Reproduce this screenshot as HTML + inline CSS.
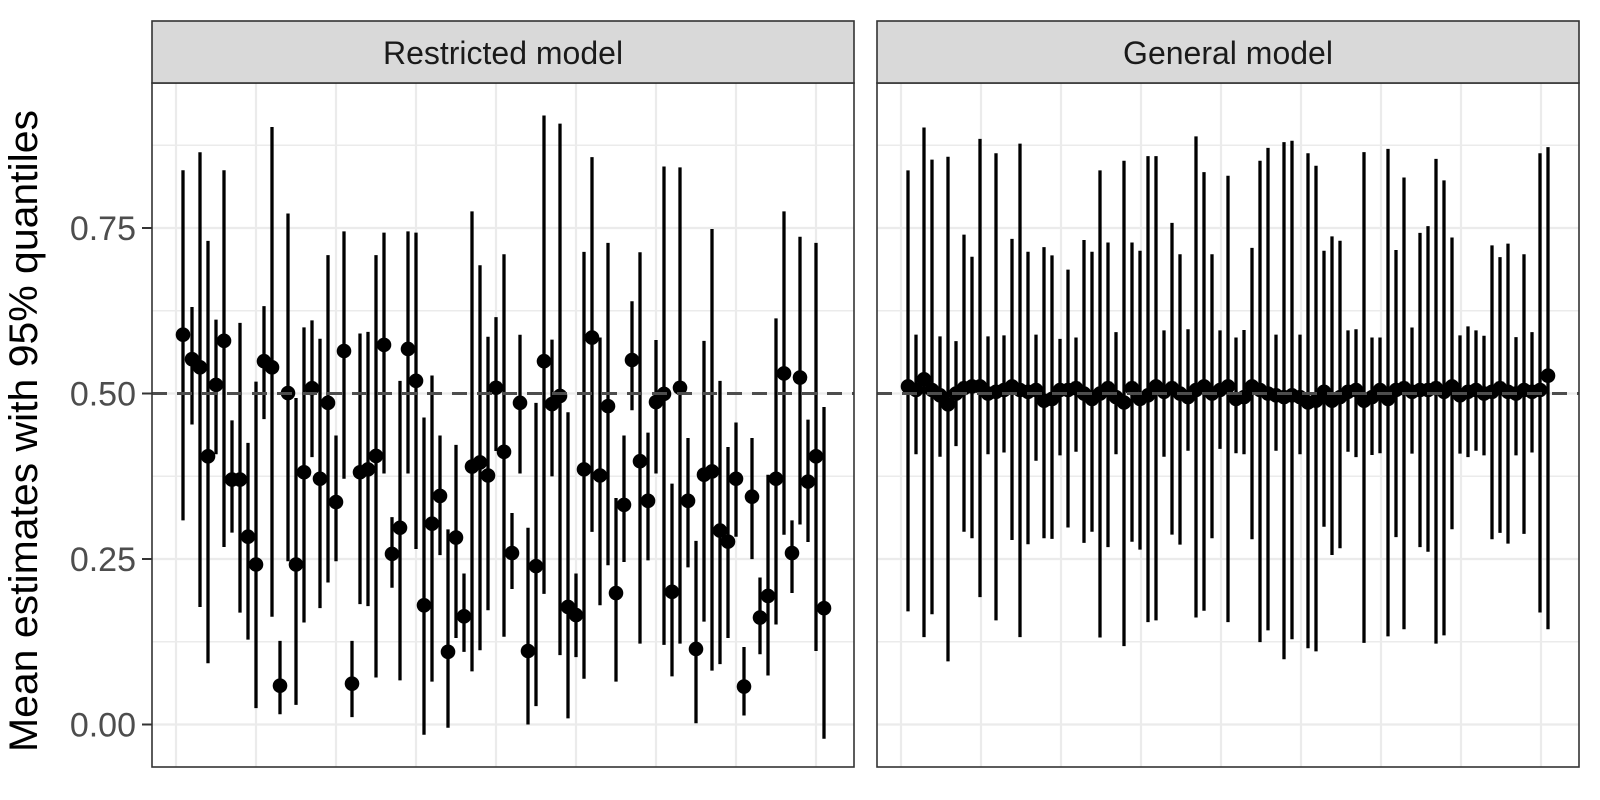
<!DOCTYPE html>
<html><head><meta charset="utf-8"><style>
html,body{margin:0;padding:0;background:#fff;}
svg{display:block;}
</style></head><body>
<svg id="s" width="1600" height="800" xmlns="http://www.w3.org/2000/svg" font-family="Liberation Sans, sans-serif">
<rect width="1600" height="800" fill="#fff"/>
<g id="g"></g>
<text x="37" y="431" font-size="40" fill="#000" text-anchor="middle" transform="rotate(-90 37 431)" textLength="642" lengthAdjust="spacingAndGlyphs">Mean estimates with 95% quantiles</text>
</svg>
<script>
var NS="http://www.w3.org/2000/svg",g=document.getElementById('g');
function el(n,a){var e=document.createElementNS(NS,n);for(var k in a)e.setAttribute(k,a[k]);g.appendChild(e);return e;}
function Y(v){return 724.5-662*v;}
var PT=83,PB=767;
var panels=[{x0:152,x1:854,t:"Restricted model"},{x0:877,x1:1579,t:"General model"}];
panels.forEach(function(p,i){
  el('rect',{x:p.x0,y:PT,width:p.x1-p.x0,height:PB-PT,fill:'#fff'});
  [0.125,0.375,0.625,0.875].forEach(function(v){el('line',{x1:p.x0,x2:p.x1,y1:Y(v),y2:Y(v),stroke:'#ebebeb','stroke-width':1.5});});
  [0,0.25,0.5,0.75].forEach(function(v){el('line',{x1:p.x0,x2:p.x1,y1:Y(v),y2:Y(v),stroke:'#ebebeb','stroke-width':2.2});});
  for(var k=0;k<9;k++){var gx=p.x0+24+80*k;el('line',{x1:gx,x2:gx,y1:PT,y2:PB,stroke:'#ebebeb','stroke-width':2.2});}
});
var L=[[183,172,1030,575],[192,507,795,635],[200,128,1242,655],[208,345,1380,873],[216,538,868,698],[224,172,1095,590],[232,785,1060,930],[240,546,1256,930],[248,840,1322,1070],[256,690,1490,1138],[264,505,782,640],[272,66,1266,655],[280,1325,1505,1435],[288,278,1130,718],[296,730,1482,1138],[304,557,1280,912],[312,540,875,706],[320,585,1245,928],[328,380,1182,742],[336,822,1130,985],[344,322,928,615],[352,1325,1512,1430],[360,572,1235,912],[368,568,1240,905],[376,380,1415,872],[384,325,915,600],[392,1022,1195,1112],[400,688,1422,1048],[408,322,915,610],[416,325,1100,688],[424,778,1555,1238],[432,675,1425,1038],[440,822,1115,970],[448,1052,1538,1352],[456,845,1318,1072],[464,1160,1352,1265],[472,273,1400,898],[480,405,1348,888],[488,580,1250,920],[496,532,860,705],[504,378,1315,862],[512,1012,1198,1110],[520,575,915,742],[528,1048,1530,1350],[536,742,1485,1142],[544,38,1210,640],[552,587,922,745],[560,58,1360,725],[568,765,1515,1242],[576,1160,1365,1262],[584,372,1418,905],[592,140,1058,582],[600,582,1238,920],[608,350,1140,750],[616,975,1425,1208],[624,822,1132,992],[632,493,760,637],[640,373,1332,885],[648,815,1128,982],[656,588,915,740],[664,163,1335,720],[672,940,1412,1205],[680,165,1332,705],[688,828,1145,982],[696,1080,1527,1345],[704,590,1278,918],[712,316,1398,910],[720,688,1382,1055],[728,850,1318,1082],[736,790,1070,928],[744,1340,1508,1437],[752,828,1125,972],[760,1170,1358,1268],[768,918,1410,1215],[776,535,1285,928],[784,273,1065,670],[792,1030,1208,1110],[800,335,1040,680],[808,783,1083,935],[816,350,1350,873],[824,752,1565,1245]];
var R=[[908,155,1390,760],[916,615,950,770],[924,35,1462,740],[932,125,1398,770],[940,620,957,785],[948,117,1530,810],[956,633,927,780],[964,335,1167,765],[972,397,1185,760],[980,67,1350,760],[988,620,950,780],[996,107,1415,775],[1004,617,945,770],[1012,347,1190,760],[1020,80,1462,770],[1028,383,1202,775],[1036,615,968,770],[1044,370,1185,800],[1052,393,1187,795],[1060,627,953,770],[1068,433,1155,770],[1076,623,943,765],[1084,350,1198,780],[1092,383,1167,795],[1100,155,1463,780],[1108,357,1210,765],[1116,608,950,790],[1124,128,1487,805],[1132,357,1195,765],[1140,380,1217,795],[1148,115,1420,785],[1156,115,1415,760],[1164,603,957,775],[1172,302,1175,765],[1180,390,1203,780],[1188,600,940,790],[1196,60,1407,770],[1204,160,1388,760],[1212,390,1185,780],[1220,603,935,770],[1228,170,1420,760],[1236,623,947,795],[1244,602,950,790],[1252,372,1188,760],[1260,128,1476,770],[1268,92,1443,780],[1276,615,940,785],[1284,76,1524,790],[1292,72,1468,785],[1300,615,950,790],[1308,107,1493,805],[1316,142,1502,800],[1324,380,1153,775],[1332,340,1232,800],[1340,352,1213,790],[1348,603,943,775],[1356,600,958,770],[1364,104,1478,800],[1372,623,952,790],[1380,623,947,770],[1388,95,1460,795],[1396,378,1182,770],[1404,175,1440,765],[1412,595,948,775],[1420,330,1210,770],[1428,311,1223,770],[1436,123,1480,765],[1444,183,1457,775],[1452,343,1160,760],[1460,617,948,785],[1468,592,958,775],[1476,603,940,770],[1484,618,953,780],[1492,365,1188,775],[1500,398,1170,765],[1508,360,1200,775],[1516,622,953,780],[1524,390,1173,770],[1532,608,945,775],[1540,107,1393,770],[1548,90,1440,730]];
function draw(D,f){
  D.forEach(function(d){el('line',{x1:d[0],x2:d[0],y1:f(d[1]),y2:f(d[2]),stroke:'#000','stroke-width':3.3});});
  D.forEach(function(d){el('circle',{cx:d[0],cy:f(d[3]),r:7.3,fill:'#000'});});
}
draw(L,function(z){return 100+z/2.45;});
draw(R,function(z){return 115+z/2.8;});
panels.forEach(function(p){
  el('line',{x1:p.x0,x2:p.x1,y1:Y(0.5),y2:Y(0.5),stroke:'#4d4d4d','stroke-width':3,'stroke-dasharray':'15 10'});
  el('rect',{x:p.x0,y:PT,width:p.x1-p.x0,height:PB-PT,fill:'none',stroke:'#333','stroke-width':1.6});
  el('rect',{x:p.x0,y:21,width:p.x1-p.x0,height:PT-21,fill:'#d9d9d9',stroke:'#333','stroke-width':1.6});
  var t=el('text',{x:(p.x0+p.x1)/2,y:64,'font-size':32,fill:'#1a1a1a','text-anchor':'middle'});t.textContent=p.t;
});
[[0,"0.00"],[0.25,"0.25"],[0.5,"0.50"],[0.75,"0.75"]].forEach(function(a){
  el('line',{x1:142,x2:152,y1:Y(a[0]),y2:Y(a[0]),stroke:'#333','stroke-width':2});
  var t=el('text',{x:136,y:Y(a[0])+12,'font-size':34,fill:'#4d4d4d','text-anchor':'end'});t.textContent=a[1];
});
</script>
</body></html>
